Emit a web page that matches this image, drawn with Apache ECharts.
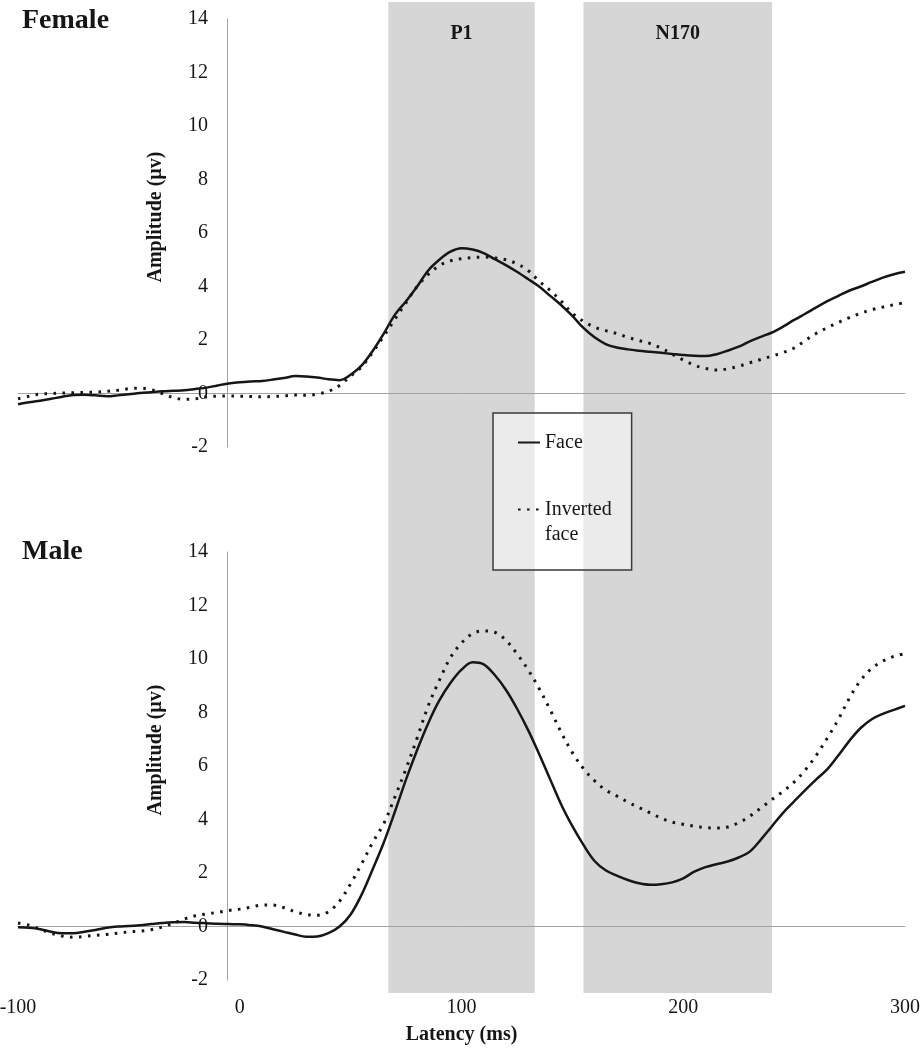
<!DOCTYPE html>
<html>
<head>
<meta charset="utf-8">
<script src="https://cdn.jsdelivr.net/npm/echarts@6/dist/echarts.min.js"></script>
<style>
html,body{margin:0;padding:0;background:#fff;}
#chart{width:921px;height:1050px;}
</style>
</head>
<body>
<div id="chart"></div>
<script>
const latency = [-100,-95,-90,-85,-80,-75,-70,-65,-60,-55,-50,-45,-40,-35,-30,-25,-20,-15,-10,-5,
  0,5,10,15,20,25,30,35,40,45,50,55,60,65,70,75,80,85,90,95,
  100,105,110,115,120,125,130,135,140,145,150,155,160,165,170,175,180,185,190,195,
  200,205,210,215,220,225,230,235,240,245,250,255,260,265,270,275,280,285,290,295,300];

const femaleFace = [-0.4,-0.33,-0.27,-0.2,-0.12,-0.06,-0.05,-0.07,-0.1,-0.07,-0.03,0.02,0.05,0.08,0.1,0.12,0.17,0.22,0.3,0.37,
  0.42,0.45,0.47,0.52,0.58,0.65,0.64,0.6,0.53,0.5,0.7,1.05,1.6,2.25,2.95,3.45,4.0,4.6,5.0,5.3,
  5.43,5.38,5.25,5.02,4.8,4.55,4.28,4.0,3.65,3.3,2.9,2.45,2.1,1.85,1.72,1.65,1.6,1.56,1.52,1.48,
  1.44,1.41,1.4,1.47,1.6,1.75,1.95,2.12,2.28,2.5,2.75,2.98,3.22,3.45,3.65,3.85,4.0,4.17,4.33,4.46,4.55];

const femaleInverted = [-0.2,-0.1,-0.02,0.0,0.02,0.03,0.04,0.05,0.08,0.12,0.18,0.2,0.14,0.0,-0.15,-0.22,-0.2,-0.12,-0.1,-0.09,
  -0.1,-0.11,-0.12,-0.11,-0.09,-0.06,-0.07,-0.02,0.08,0.3,0.65,1.0,1.55,2.15,2.78,3.4,4.0,4.45,4.78,4.96,
  5.04,5.08,5.1,5.07,5.0,4.85,4.6,4.2,3.85,3.45,3.0,2.7,2.48,2.35,2.24,2.1,1.98,1.87,1.7,1.47,
  1.25,1.06,0.94,0.88,0.92,1.02,1.15,1.27,1.4,1.53,1.7,1.98,2.25,2.46,2.66,2.84,3.0,3.13,3.23,3.32,3.4];

const maleFace = [-0.03,-0.05,-0.1,-0.2,-0.25,-0.25,-0.2,-0.13,-0.05,0.0,0.02,0.05,0.09,0.13,0.16,0.17,0.14,0.12,0.1,0.09,
  0.08,0.05,0.0,-0.1,-0.2,-0.3,-0.38,-0.37,-0.25,0.0,0.45,1.2,2.15,3.15,4.3,5.5,6.6,7.6,8.45,9.1,
  9.6,9.88,9.8,9.4,8.85,8.15,7.35,6.45,5.5,4.55,3.75,3.05,2.45,2.1,1.9,1.74,1.62,1.56,1.58,1.65,
  1.8,2.05,2.22,2.33,2.43,2.58,2.8,3.25,3.75,4.25,4.68,5.1,5.5,5.88,6.4,6.95,7.42,7.75,7.95,8.1,8.25];

const maleInverted = [0.13,0.05,-0.1,-0.25,-0.36,-0.4,-0.37,-0.33,-0.3,-0.25,-0.2,-0.17,-0.12,-0.02,0.12,0.28,0.4,0.47,0.53,0.6,
  0.65,0.72,0.8,0.8,0.7,0.55,0.45,0.42,0.55,0.95,1.6,2.35,3.15,3.85,4.85,5.9,7.05,8.25,9.2,10.05,
  10.6,10.95,11.05,11.0,10.7,10.2,9.6,8.9,8.1,7.25,6.5,5.9,5.45,5.1,4.88,4.65,4.45,4.25,4.05,3.9,
  3.82,3.75,3.7,3.68,3.72,3.88,4.12,4.43,4.75,5.05,5.4,5.85,6.4,7.05,7.75,8.55,9.2,9.65,9.92,10.1,10.2];

const xTicks = { min: -100, max: 300, interval: 100 };
const yTicks = { min: -2, max: 14, interval: 2 };
const windows = [
  { name: 'P1', from: 67, to: 133 },
  { name: 'N170', from: 155, to: 240 }
];
const panelTitles = ['Female', 'Male'];

const SERIF = '"Liberation Serif", "Times New Roman", serif';
const INK = '#161616';

function pairs(vals) { return latency.map((t, i) => [t, vals[i]]); }

function lineSeries(name, vals, gridIdx, dotted) {
  return {
    name: name,
    type: 'line',
    xAxisIndex: gridIdx,
    yAxisIndex: gridIdx,
    data: pairs(vals),
    smooth: 0.35,
    showSymbol: false,
    symbol: 'none',
    silent: true,
    z: 5,
    itemStyle: { color: INK },
    lineStyle: dotted
      ? { color: INK, width: 3, type: [2.6, 6.4], cap: 'butt' }
      : { color: INK, width: 2.5, type: 'solid' }
  };
}

function valueXAxis(gridIdx, extra) {
  return Object.assign({
    type: 'value', gridIndex: gridIdx, position: 'bottom',
    min: xTicks.min, max: xTicks.max, interval: xTicks.interval,
    axisLine: { show: true, onZero: true, lineStyle: { color: '#a2a2a2', width: 1 } },
    axisTick: { show: false },
    axisLabel: { show: false },
    splitLine: { show: false },
    z: 4
  }, extra || {});
}

function ampYAxis(gridIdx) {
  return {
    type: 'value', gridIndex: gridIdx,
    min: yTicks.min, max: yTicks.max, interval: yTicks.interval,
    position: 'left',
    offset: -209,
    axisLine: { show: true, onZero: false, lineStyle: { color: '#a2a2a2', width: 1 } },
    axisTick: { show: false },
    splitLine: { show: false },
    axisLabel: { fontFamily: SERIF, fontSize: 20, color: INK, margin: 19 },
    name: 'Amplitude (µv)',
    nameLocation: 'middle',
    nameRotate: 90,
    nameGap: 61,
    nameTextStyle: { fontFamily: SERIF, fontSize: 20, fontWeight: 'bold', color: INK, padding: [0, 0, 0, 32] },
    z: 4
  };
}

const option = {
  backgroundColor: '#ffffff',
  animation: false,
  title: [
    { text: panelTitles[0], left: 22, top: 7, padding: 0,
      textStyle: { fontFamily: SERIF, fontSize: 28, fontWeight: 'bold', color: INK } },
    { text: panelTitles[1], left: 22, top: 538, padding: 0,
      textStyle: { fontFamily: SERIF, fontSize: 28, fontWeight: 'bold', color: INK } }
  ],
  grid: [
    { left: 18, right: 16, top: 19, height: 428, containLabel: false, outerBoundsMode: 'none' },
    { left: 18, right: 16, top: 552, height: 428, containLabel: false, outerBoundsMode: 'none' },
    { left: 18, right: 16, top: 2, height: 991, containLabel: false, outerBoundsMode: 'none' }
  ],
  xAxis: [
    valueXAxis(0),
    valueXAxis(1),
    valueXAxis(1, {
      axisLine: { show: false, onZero: false },
      axisLabel: { show: true, fontFamily: SERIF, fontSize: 20, color: INK, margin: 18,
                   showMinLabel: true, showMaxLabel: true },
      name: 'Latency (ms)', nameLocation: 'middle', nameGap: 45,
      nameTextStyle: { fontFamily: SERIF, fontSize: 20, fontWeight: 'bold', color: INK }
    }),
    valueXAxis(2, { show: false, axisLine: { show: false } })
  ],
  yAxis: [
    ampYAxis(0),
    ampYAxis(1),
    { type: 'value', gridIndex: 2, min: 0, max: 1, show: false }
  ],
  legend: {
    left: 493, top: 413,
    orient: 'vertical',
    selectedMode: false,
    backgroundColor: 'rgba(255,255,255,0.52)',
    borderColor: '#3a3a3a', borderWidth: 1.5,
    padding: [17, 20, 23, 24],
    itemGap: 17,
    itemWidth: 22, itemHeight: 14,
    data: ['Face', 'Inverted face'],
    itemStyle: { opacity: 0, borderWidth: 0 },
    formatter: function (n) { return n === 'Inverted face' ? '\u00a0\nInverted\nface' : n; },
    textStyle: { fontFamily: SERIF, fontSize: 20, color: INK, lineHeight: 25 },
    z: 6
  },
  series: [
    {
      name: 'windows', type: 'line', xAxisIndex: 3, yAxisIndex: 2, data: [], silent: true, z: 1,
      markArea: {
        silent: true,
        itemStyle: { color: '#d6d6d6' },
        label: { show: true, position: 'insideTop', distance: 22, fontFamily: SERIF, fontSize: 20,
                 fontWeight: 'bold', color: INK },
        data: windows.map(w => [{ name: w.name, xAxis: w.from }, { xAxis: w.to }])
      }
    },
    lineSeries('Face', femaleFace, 0, false),
    lineSeries('Inverted face', femaleInverted, 0, true),
    lineSeries('Face', maleFace, 1, false),
    lineSeries('Inverted face', maleInverted, 1, true)
  ]
};

const chart = echarts.init(document.getElementById('chart'), null, { renderer: 'canvas' });
chart.setOption(option);
</script>
</body>
</html>
